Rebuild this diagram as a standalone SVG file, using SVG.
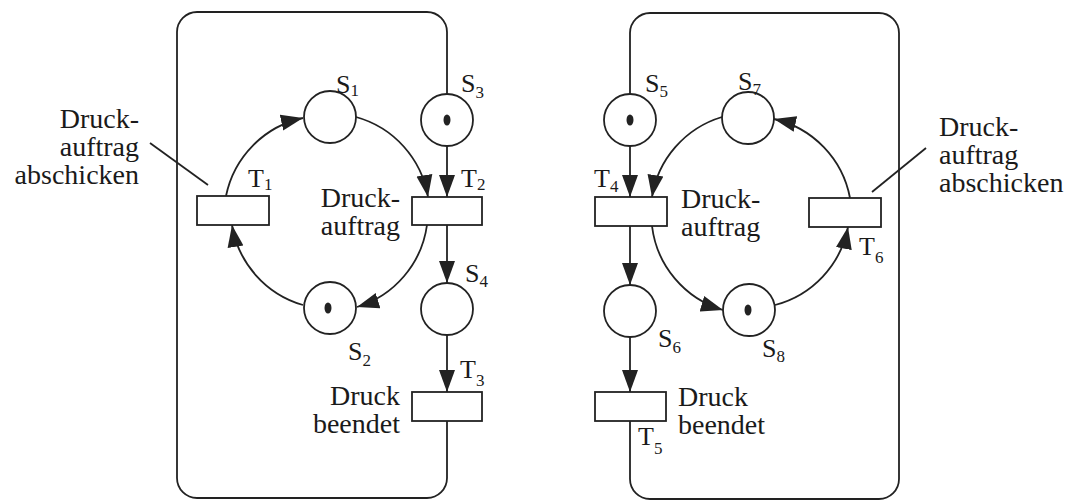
<svg xmlns="http://www.w3.org/2000/svg" width="1071" height="501" viewBox="0 0 1071 501">
<style>
.pl{fill:#fff;stroke:#222;stroke-width:1.8}
.tr{fill:#fff;stroke:#222;stroke-width:1.8}
.tk{fill:#222}
.ln{fill:none;stroke:#222;stroke-width:1.8}
.t{font-family:"Liberation Serif","Times New Roman",serif;font-size:28px;fill:#1a1a1a}
.lb{font-family:"Liberation Serif","Times New Roman",serif;font-size:26px;fill:#1a1a1a}
.sb{font-size:17px}
.e{text-anchor:end}
</style>
<defs>
<marker id="ah" markerUnits="userSpaceOnUse" markerWidth="24" markerHeight="18" viewBox="0 0 24 18" refX="22" refY="9" orient="auto">
<path d="M0,1 L22,9 L0,17 Z" fill="#222"/>
</marker>
</defs>
<rect width="1071" height="501" fill="#fff"/>

<g id="connectors">
<path class="ln" d="M447,94 V32 A20,20 0 0,0 427,12 H197 A20,20 0 0,0 177,32 V478 A20,20 0 0,0 197,498 H427 A20,20 0 0,0 447,478 V421"/>
<path class="ln" d="M226,196 A100,100 0 0,1 303,118" marker-end="url(#ah)"/>
<path class="ln" d="M356,117 A100,100 0 0,1 428,197" marker-end="url(#ah)"/>
<path class="ln" d="M427,225 A100,100 0 0,1 357,307" marker-end="url(#ah)"/>
<path class="ln" d="M303,305 A100,100 0 0,1 232,225" marker-end="url(#ah)"/>
<path class="ln" d="M447,146 V197" marker-end="url(#ah)"/>
<path class="ln" d="M447,225 V283" marker-end="url(#ah)"/>
<path class="ln" d="M447,335 V392" marker-end="url(#ah)"/>
<path class="ln" d="M630,94 V33 A20,20 0 0,1 650,13 H879 A20,20 0 0,1 899,33 V479 A20,20 0 0,1 879,499 H650 A20,20 0 0,1 630,479 V421"/>
<path class="ln" d="M722,117 A100,100 0 0,0 652,197" marker-end="url(#ah)"/>
<path class="ln" d="M652,226 A100,100 0 0,0 723,310" marker-end="url(#ah)"/>
<path class="ln" d="M775,305 A100,100 0 0,0 848,227" marker-end="url(#ah)"/>
<path class="ln" d="M850,198 A100,100 0 0,0 774,119" marker-end="url(#ah)"/>
<path class="ln" d="M630,146 V197" marker-end="url(#ah)"/>
<path class="ln" d="M630,226 V285" marker-end="url(#ah)"/>
<path class="ln" d="M630,337 V392" marker-end="url(#ah)"/>
<path class="ln" d="M150,143 L208,185"/>
<path class="ln" d="M872,192 L926,148"/>
</g>

<g id="S1"><circle class="pl" cx="330" cy="117" r="26"/><text class="lb" x="336" y="93">S<tspan class="sb" dy="3">1</tspan></text></g>
<g id="S2"><circle class="pl" cx="330" cy="308" r="26"/><ellipse class="tk" cx="328" cy="308" rx="3.5" ry="5.5"/><text class="lb" x="348" y="360">S<tspan class="sb" dy="6">2</tspan></text></g>
<g id="S3"><circle class="pl" cx="447" cy="120" r="26"/><ellipse class="tk" cx="447" cy="120" rx="3.5" ry="5.5"/><text class="lb" x="461" y="92">S<tspan class="sb" dy="6">3</tspan></text></g>
<g id="S4"><circle class="pl" cx="447" cy="309" r="26"/><text class="lb" x="465" y="282">S<tspan class="sb" dy="5">4</tspan></text></g>
<g id="S5"><circle class="pl" cx="630" cy="120" r="26"/><ellipse class="tk" cx="630" cy="120" rx="3.5" ry="5.5"/><text class="lb" x="645" y="92">S<tspan class="sb" dy="5">5</tspan></text></g>
<g id="S6"><circle class="pl" cx="630" cy="311" r="26"/><text class="lb" x="658" y="347">S<tspan class="sb" dy="6">6</tspan></text></g>
<g id="S7"><circle class="pl" cx="748" cy="118" r="26"/><text class="lb" x="738" y="90">S<tspan class="sb" dy="5">7</tspan></text></g>
<g id="S8"><circle class="pl" cx="749" cy="310" r="26"/><ellipse class="tk" cx="748" cy="310" rx="3.5" ry="5.5"/><text class="lb" x="762" y="357">S<tspan class="sb" dy="5">8</tspan></text></g>

<g id="T1"><rect class="tr" x="197" y="196" width="72" height="29"/><text class="lb" x="248" y="187">T<tspan class="sb" dy="3">1</tspan></text>
<text class="t e" x="139"><tspan x="139" y="128">Druck-</tspan><tspan x="139" y="156">auftrag</tspan><tspan x="139" y="184">abschicken</tspan></text></g>
<g id="T2"><rect class="tr" x="412" y="197" width="70" height="28"/><text class="lb" x="461" y="187">T<tspan class="sb" dy="3">2</tspan></text>
<text class="t e" x="400"><tspan x="400" y="207">Druck-</tspan><tspan x="400" y="235">auftrag</tspan></text></g>
<g id="T3"><rect class="tr" x="412" y="392" width="70" height="29"/><text class="lb" x="460" y="378">T<tspan class="sb" dy="8">3</tspan></text>
<text class="t e" x="400"><tspan x="400" y="405">Druck</tspan><tspan x="400" y="433">beendet</tspan></text></g>
<g id="T4"><rect class="tr" x="595" y="197" width="72" height="29"/><text class="lb" x="594" y="187">T<tspan class="sb" dy="5">4</tspan></text>
<text class="t" x="681"><tspan x="681" y="208">Druck-</tspan><tspan x="681" y="236">auftrag</tspan></text></g>
<g id="T5"><rect class="tr" x="595" y="392" width="71" height="29"/><text class="lb" x="638" y="445">T<tspan class="sb" dy="9">5</tspan></text>
<text class="t" x="678"><tspan x="678" y="406">Druck</tspan><tspan x="678" y="434">beendet</tspan></text></g>
<g id="T6"><rect class="tr" x="809" y="198" width="72" height="29"/><text class="lb" x="859" y="255">T<tspan class="sb" dy="8">6</tspan></text>
<text class="t" x="939"><tspan x="939" y="136">Druck-</tspan><tspan x="939" y="164">auftrag</tspan><tspan x="939" y="192">abschicken</tspan></text></g>
</svg>
